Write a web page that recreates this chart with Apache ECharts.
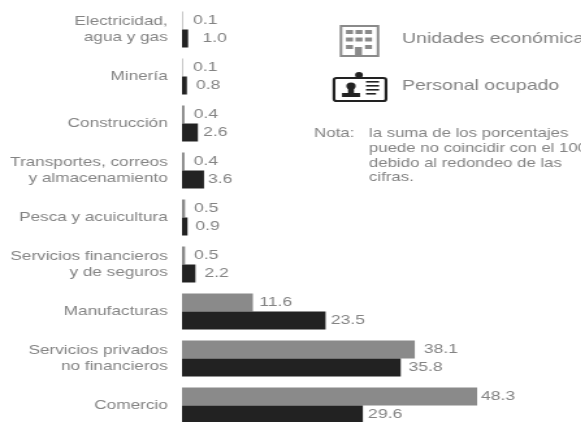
<!DOCTYPE html>
<html>
<head>
<meta charset="utf-8">
<title>Unidades económicas y personal ocupado</title>
<script src="https://cdn.jsdelivr.net/npm/echarts@6/dist/echarts.min.js"></script>
<style>
    html, body { margin: 0; padding: 0; background: #fff; overflow: hidden; }
    /* la imagen original viene estirada a lo ancho */
    #main { width: 447px; height: 422px; transform: scaleX(1.3); transform-origin: 0 0; }
</style>
</head>
<body>
<div id="main"></div>
<script>
var categories = [
    'Electricidad,\nagua y gas',
    'Minería',
    'Construcción',
    'Transportes, correos\ny almacenamiento',
    'Pesca y acuicultura',
    'Servicios financieros\ny de seguros',
    'Manufacturas',
    'Servicios privados\nno financieros',
    'Comercio'
];
var unidades = [0.1, 0.1, 0.4, 0.4, 0.5, 0.5, 11.6, 38.1, 48.3];
var personal = [1.0, 0.8, 2.6, 3.6, 0.9, 2.2, 23.5, 35.8, 29.6];

// separacion de cada etiqueta respecto a su barra
var gapUnidades = [8, 8, 7, 7, 7, 7, 5, 7, 3];
var gapPersonal = [11, 7, 4, 3, 6, 7, 4, 6, 4];

var GREY = '#8a8a8a', DARK = '#222222', TEXT = '#848484', S = 1.3;

function buildSeries(name, values, gaps, color) {
    return {
        name: name,
        type: 'bar',
        barWidth: 18,
        barGap: 0,
        itemStyle: { color: color },
        data: values.map(function (v, i) {
            return {
                value: v,
                label: {
                    show: true,
                    position: 'right',
                    distance: gaps[i],
                    formatter: v.toFixed(1),
                    color: TEXT,
                    fontSize: 13.5,
                    fontFamily: 'Liberation Sans'
                }
            };
        })
    };
}

function txt(x, y, text, size, color) {
    return {
        type: 'text',
        x: x / S,
        y: y,
        style: { text: text, fill: color, fontSize: size, fontFamily: 'Liberation Sans', verticalAlign: 'middle' }
    };
}

function box(x, y, w, h, color) {
    return { type: 'rect', shape: { x: x / S, y: y, width: w / S, height: h }, style: { fill: color } };
}

// icono del edificio
var buildingIcon = [
    { type: 'rect', shape: { x: 341 / S, y: 26, width: 37 / S, height: 30 }, style: { fill: '#fff', stroke: GREY, lineWidth: 2 } }
];
[0, 1, 2].forEach(function (r) {
    [0, 1, 2].forEach(function (c) {
        buildingIcon.push(box(346 + c * 9.5, 30 + r * 7.5, 7, 4, r === 2 && c === 1 ? '#fff' : GREY));
    });
});
buildingIcon.push(box(355, 47, 7, 9, GREY));

// icono de la credencial
var cardIcon = [
    { type: 'rect', shape: { x: 334 / S, y: 78, width: 52 / S, height: 23, r: 2 }, style: { fill: '#fff', stroke: DARK, lineWidth: 2.2 } },
    { type: 'circle', shape: { cx: 359 / S, cy: 75, r: 3 }, style: { fill: DARK } },
    { type: 'circle', shape: { cx: 351 / S, cy: 86, r: 3.6 }, style: { fill: DARK } },
    box(342, 93, 18, 4, DARK),
    box(348, 88, 6, 6, DARK),
    box(366, 81, 13, 1.6, DARK),
    box(366, 85, 13, 1.6, DARK),
    box(366, 89, 13, 1.6, DARK),
    box(366, 93, 10, 1.6, DARK)
];

var myChart = echarts.init(document.getElementById('main'));

var option = {
    animation: false,
    backgroundColor: '#fff',
    // la ultima barra queda cortada por el borde inferior
    grid: { left: 140, top: 6, width: 282, height: 423, outerBoundsMode: 'none' },
    xAxis: { type: 'value', min: 0, max: 60, show: false },
    yAxis: {
        type: 'category',
        inverse: true,
        data: categories,
        axisLine: { show: false },
        axisTick: { show: false },
        axisLabel: {
            margin: 11,
            color: TEXT,
            fontSize: 13.2,
            lineHeight: 15.5,
            fontFamily: 'Liberation Sans'
        }
    },
    series: [
        buildSeries('Unidades económicas', unidades, gapUnidades, GREY),
        buildSeries('Personal ocupado', personal, gapPersonal, DARK)
    ],
    graphic: buildingIcon.concat(cardIcon, [
        txt(402, 39, 'Unidades económicas', 15, TEXT),
        txt(402, 86, 'Personal ocupado', 15, TEXT),
        txt(314, 133, 'Nota:', 13, TEXT),
        txt(369, 133, 'la suma de los porcentajes', 12.9, TEXT),
        txt(369, 148, 'puede no coincidir con el 100%', 12.9, TEXT),
        txt(369, 163, 'debido al redondeo de las', 12.9, TEXT),
        txt(369, 177.5, 'cifras.', 12.9, TEXT)
    ])
};

myChart.setOption(option);
</script>
</body>
</html>
